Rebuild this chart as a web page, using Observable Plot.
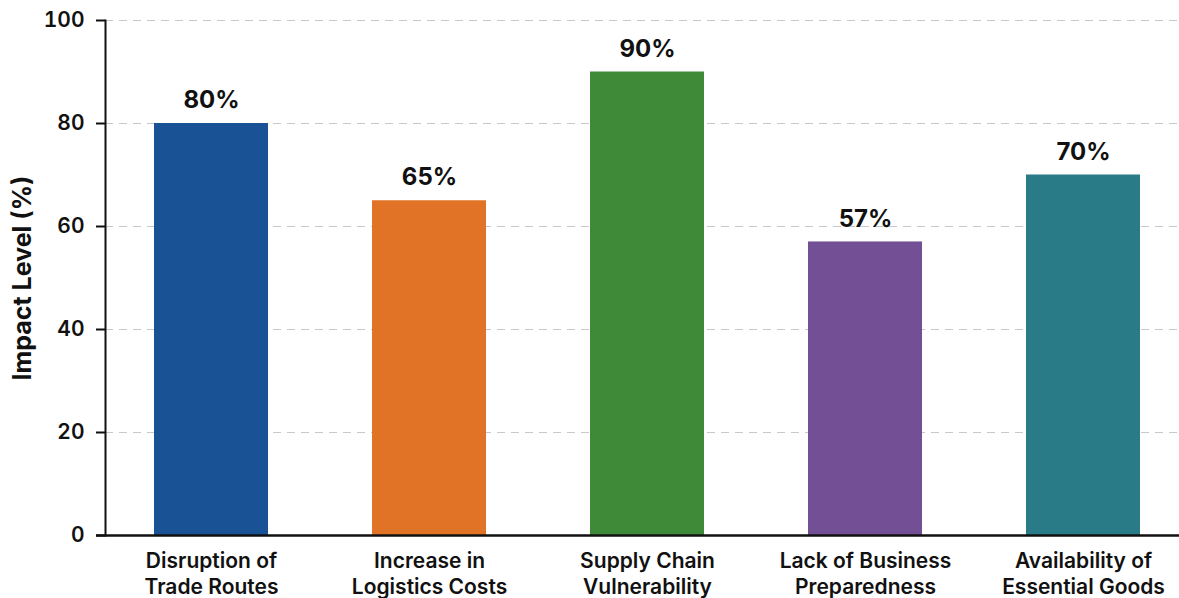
<!DOCTYPE html>
<html><head><meta charset="utf-8">
<script src="https://cdn.jsdelivr.net/npm/d3@7"></script>
<script src="https://cdn.jsdelivr.net/npm/@observablehq/plot@0.6"></script>
<style>
body{margin:0;background:#fff;overflow:hidden;font-family:Inter,"Noto Sans",sans-serif;}
</style></head><body><div id="chart"></div>
<script>
const categories = ["Disruption of\nTrade Routes","Increase in\nLogistics Costs","Supply Chain\nVulnerability","Lack of Business\nPreparedness","Availability of\nEssential Goods"];
const values = [80, 65, 90, 57, 70];
const colors = ["#1a5296","#e07325","#3e8a38","#734f96","#2a7b88"];
const yTicks = [0,20,40,60,80,100];
const data = categories.map((c,i)=>({category:c, value:values[i], color:colors[i]}));

const plot = Plot.plot({
  width: 1179, height: 598,
  marginLeft: 105, marginRight: 0, marginTop: 20, marginBottom: 63,
  style: {fontFamily: "Inter, 'Noto Sans', sans-serif", background: "#fff"},
  x: {domain: categories, paddingInner: 0.475, paddingOuter: 0.217, insetRight: -11, label: null},
  y: {domain: [0,100], label: null},
  marks: [
    Plot.gridY(yTicks, {stroke: "#c8c8c8", strokeOpacity: 1, strokeDasharray: "8,6", strokeWidth: 1.2}),
    Plot.barY(data, {x: "category", y: "value", fill: "color"}),
    Plot.text(data, {x: "category", y: "value", text: d => d.value + "%", dy: -23, fontSize: 24, fontWeight: 700, fill: "#111"}),
    Plot.axisY(yTicks, {tickSize: 9, tickPadding: 12, fontSize: 21, fontWeight: 600, stroke: "#111", strokeWidth: 2, fill: "#111", label: null}),
    Plot.axisX({tickSize: 0, tickPadding: 15, fontSize: 21, fontWeight: 600, fill: "#111", lineHeight: 1.2, label: null}),
    Plot.frame({anchor: "left", stroke: "#111", strokeWidth: 2}),
    Plot.ruleY([0], {stroke: "#111", strokeWidth: 2.5, insetLeft: -9}),
    Plot.text(["Impact Level (%)"], {frameAnchor: "left", textAnchor: "middle", dx: -83, rotate: -90, fontSize: 25, fontWeight: 700, fill: "#111"})
  ]
});
document.getElementById("chart").append(plot);
</script></body></html>
